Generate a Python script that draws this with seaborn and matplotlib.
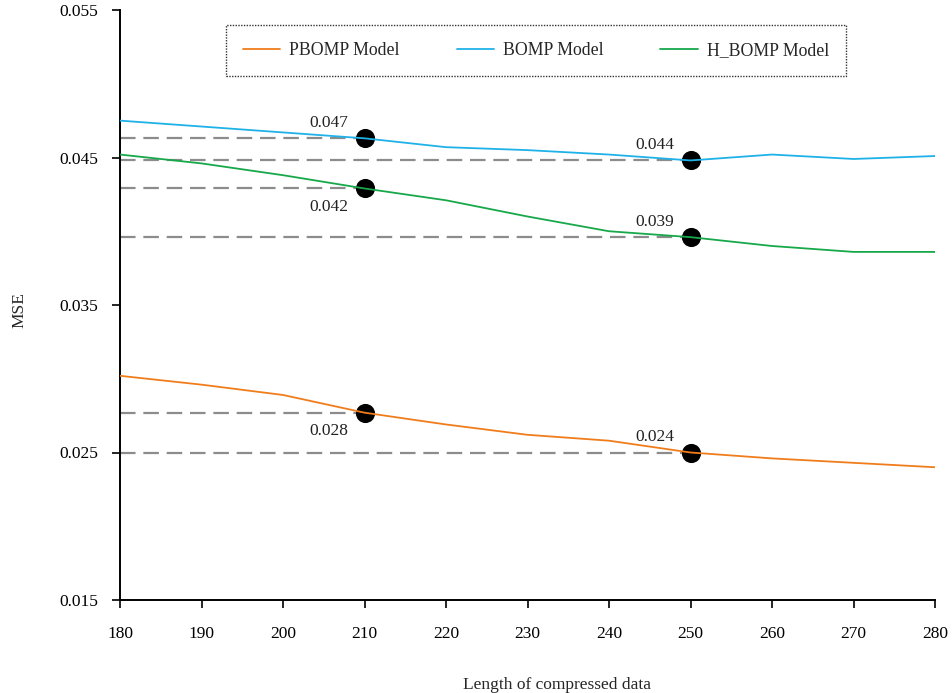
import matplotlib
matplotlib.use("Agg")
import matplotlib.pyplot as plt
import seaborn as sns
import pandas as pd

# Data
lengths = [180, 190, 200, 210, 220, 230, 240, 250, 260, 270, 280]
pbomp_mse = [0.0302, 0.0296, 0.0289, 0.0277, 0.0269, 0.0262, 0.0258, 0.0250, 0.0246, 0.0243, 0.0240]
bomp_mse = [0.0475, 0.0471, 0.0467, 0.0463, 0.0457, 0.0455, 0.0452, 0.0448, 0.0452, 0.0449, 0.0451]
hbomp_mse = [0.0452, 0.0446, 0.0438, 0.0429, 0.0421, 0.0410, 0.0400, 0.0396, 0.0390, 0.0386, 0.0386]

model_names = ["PBOMP Model", "BOMP Model", "H_BOMP Model"]
model_colors = ["#F07D1C", "#1FB2E8", "#17A84A"]

# Highlighted points: (model, length, label text, label above?)
mark_models = ["BOMP Model", "H_BOMP Model", "PBOMP Model", "BOMP Model", "H_BOMP Model", "PBOMP Model"]
mark_lengths = [210, 210, 210, 250, 250, 250]
mark_labels = ["0.047", "0.042", "0.028", "0.044", "0.039", "0.024"]
mark_above = [True, False, False, True, True, True]

ytick_vals = [0.015, 0.025, 0.035, 0.045, 0.055]

df = pd.DataFrame({
    "length": lengths * 3,
    "mse": pbomp_mse + bomp_mse + hbomp_mse,
    "model": [m for m in model_names for _ in lengths],
})

sns.set_style("ticks")
plt.rcParams["font.family"] = ["Liberation Serif", "DejaVu Serif"]

fig = plt.figure(figsize=(9.53, 6.93), dpi=100)
ax = fig.add_axes([120 / 953, 93 / 693, 815 / 953, 590 / 693])

sns.lineplot(data=df, x="length", y="mse", hue="model", hue_order=model_names,
             palette=dict(zip(model_names, model_colors)), linewidth=1.3, ax=ax, zorder=3)

# Dots + dashed guides + value labels
lookup = df.set_index(["model", "length"])["mse"]
mark_y = [lookup[(m, x)] for m, x in zip(mark_models, mark_lengths)]
ax.hlines(mark_y, xmin=lengths[0], xmax=mark_lengths, colors="#8C8C8C",
          linestyles=(0, (7, 3.5)), linewidth=1.6, zorder=1)
sns.scatterplot(x=mark_lengths, y=mark_y, color="black", s=190, edgecolor="black",
                linewidth=0, ax=ax, zorder=2, legend=False)
for x, y, lab, up in zip(mark_lengths, mark_y, mark_labels, mark_above):
    ax.annotate(lab, (x, y), xytext=(-26, 11 if up else -13), textcoords="offset points",
                ha="center", va="center", fontsize=12.5, color="#222222")

ax.set_xlim(180, 280)
ax.set_ylim(0.015, 0.055)
ax.set_xticks(lengths)
ax.set_yticks(ytick_vals)
ax.set_yticklabels([f"{v:.3f}" for v in ytick_vals])
ax.tick_params(axis="x", length=6, width=1.2, pad=13, labelsize=12.5, colors="black")
ax.tick_params(axis="y", length=6, width=1.2, pad=10, labelsize=12.5, colors="black")
for side in ["top", "right"]:
    ax.spines[side].set_visible(False)
for side in ["left", "bottom"]:
    ax.spines[side].set_linewidth(1.4)
    ax.spines[side].set_color("black")

ax.set_xlabel("Length of compressed data", fontsize=12.5)
ax.set_ylabel("MSE", fontsize=12.5)
ax.xaxis.set_label_coords((557 - 120) / 815, -77 / 590)
ax.yaxis.set_label_coords(-93 / 815, (600 - 310) / 590)

leg = ax.legend(loc="upper center", bbox_to_anchor=((536 - 120) / 815, 1 - 15 / 590), ncol=3,
                fontsize=12.8, frameon=True, fancybox=False, handlelength=2.1,
                columnspacing=3.2, borderpad=0.95, handletextpad=0.5, borderaxespad=0,
                title=None)
frame = leg.get_frame()
frame.set_edgecolor("black")
frame.set_linestyle((0, (1, 1)))
frame.set_linewidth(1.0)

fig.savefig("out.png", dpi=100)
plt.close(fig)
